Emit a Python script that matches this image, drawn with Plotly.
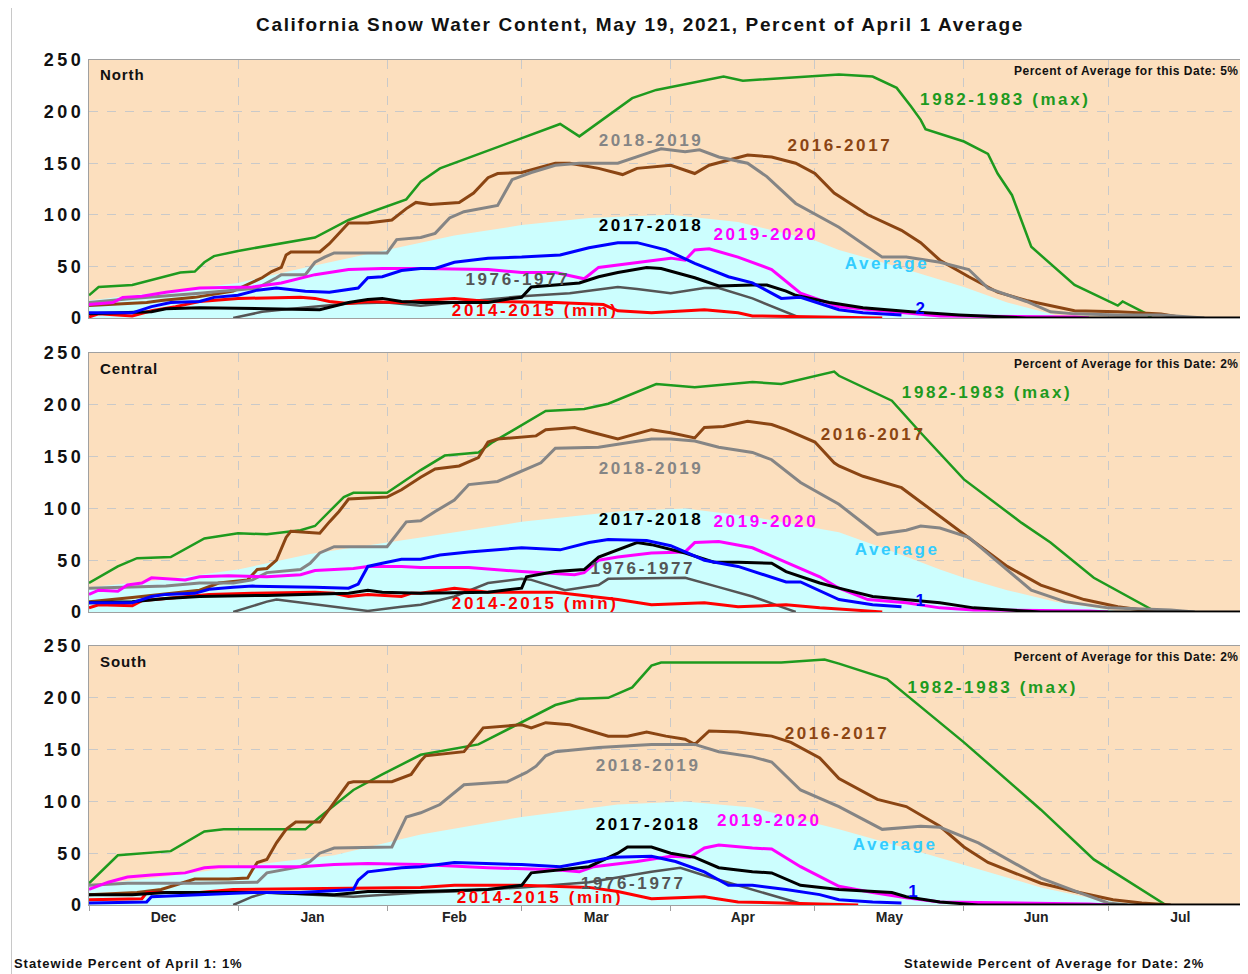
import pandas as pd
import plotly.graph_objects as go

# ---------------- data (day offset from Dec 1, percent of April 1 average) -------------
MONTH_START = "2020-12-01"

# North
N_AVG = [(0,17),(15,25),(31,34),(46,50),(62,66),(76,80),(90,90),(104,97),(121,100),(135,93),(151,75),(156,66),(168,50),(182,30),(191,15),(201,3),(206,0)]
N_1983 = [(0,22),(2,30),(9,32),(15,39),(19,44),(22,45),(24,54),(26,60),(31,65),(47,78),(54,95),(66,115),(69,132),(73,145),(98,188),(102,176),(113,213),(118,221),(132,234),(136,230),(156,236),(163,234),(168,223),(171,205),(173,192),(174,183),(182,171),(187,159),(189,140),(192,119),(196,69),(205,32),(214,12),(215,16),(220,4),(221,0)]
N_2017 = [(0,12),(12,15),(15,17),(22,20),(30,26),(34,35),(36,39),(38,45),(40,49),(41,61),(42,64),(48,64),(50,72),(54,92),(58,92),(63,95),(66,106),(68,112),(71,110),(77,112),(80,121),(83,136),(85,140),(90,141),(93,145),(97,150),(100,150),(106,145),(111,139),(114,145),(121,148),(126,140),(129,148),(133,153),(137,158),(142,156),(147,150),(151,140),(155,121),(162,100),(169,85),(173,73),(177,56),(183,40),(189,25),(195,17),(205,7),(214,6),(223,4),(228,0)]
N_2019 = [(0,15),(9,19),(23,24),(35,29),(39,39),(40,42),(45,42),(47,54),(49,59),(51,63),(62,63),(64,76),(69,78),(72,82),(75,97),(78,103),(85,109),(88,134),(92,141),(97,148),(102,150),(110,150),(117,161),(119,164),(124,161),(127,163),(131,156),(137,150),(141,137),(147,111),(156,88),(165,59),(170,59),(177,54),(183,47),(187,29),(195,16),(200,6),(205,4),(214,3),(223,3),(228,1),(232,0)]
N_1977 = [(30,0),(36,6),(40,8),(47,11),(54,14),(62,15),(69,12),(76,15),(90,21),(100,24),(110,30),(114,28),(121,24),(128,29),(131,29),(138,19),(145,6),(148,0)]
N_2015 = [(0,1),(2,4),(9,2),(13,7),(18,11),(23,16),(31,19),(44,20),(47,19),(50,16),(54,14),(58,16),(65,15),(69,17),(76,19),(83,16),(97,15),(107,13),(110,7),(117,5),(128,8),(135,5),(138,2),(156,1),(165,0)]
N_2020 = [(0,13),(5,15),(7,20),(11,21),(16,25),(23,29),(34,30),(40,34),(47,42),(54,47),(61,48),(69,48),(83,47),(90,44),(97,44),(103,38),(106,49),(117,56),(121,58),(124,56),(126,66),(129,67),(135,59),(142,47),(148,24),(156,11),(163,8),(170,5),(177,2),(205,1),(208,0)]
N_2018 = [(0,4),(13,6),(16,9),(23,10),(37,9),(48,8),(54,15),(58,18),(61,19),(65,16),(69,15),(83,15),(88,19),(90,20),(92,30),(97,32),(102,34),(106,40),(110,44),(116,49),(119,48),(126,39),(131,31),(138,32),(141,32),(145,26),(147,22),(154,15),(161,10),(171,6),(181,3),(195,0),(241,0)]
N_2021 = [(0,5),(9,5),(13,11),(17,15),(23,16),(26,20),(31,22),(35,27),(39,29),(45,26),(50,25),(56,29),(58,39),(61,40),(65,46),(69,48),(72,48),(76,54),(83,58),(90,59),(98,61),(104,68),(110,73),(114,73),(120,66),(126,53),(133,40),(138,34),(144,19),(148,20),(156,8),(161,5),(169,3)]

# Central
C_AVG = [(0,24),(15,31),(31,41),(46,56),(69,72),(90,87),(110,97),(124,100),(138,92),(156,77),(168,57),(177,41),(182,33),(191,21),(201,10),(211,3),(215,0)]
C_1983 = [(0,28),(6,44),(10,52),(17,53),(24,71),(31,76),(37,75),(44,79),(47,83),(53,111),(55,115),(62,115),(69,137),(74,151),(81,154),(84,164),(95,194),(103,196),(108,201),(118,220),(126,217),(138,222),(144,220),(155,232),(156,228),(167,204),(173,173),(182,128),(194,86),(200,67),(209,33),(222,0)]
C_2017 = [(0,10),(9,14),(23,21),(27,28),(33,31),(35,41),(37,42),(39,50),(41,72),(42,78),(45,77),(48,76),(50,87),(52,97),(54,109),(62,111),(65,118),(69,130),(72,138),(77,141),(81,149),(83,164),(85,167),(93,170),(95,176),(101,178),(105,173),(110,167),(117,176),(121,173),(126,168),(128,178),(132,179),(137,184),(142,181),(145,176),(151,164),(155,144),(156,141),(161,131),(169,120),(176,96),(182,75),(191,44),(198,26),(207,12),(214,5),(219,2),(225,0)]
C_2019 = [(0,23),(9,24),(16,25),(23,28),(30,28),(34,31),(37,38),(44,41),(46,47),(48,57),(51,63),(62,63),(66,87),(69,88),(72,97),(76,108),(79,123),(85,126),(90,136),(94,144),(97,158),(106,159),(117,167),(121,167),(126,165),(131,159),(138,154),(142,147),(148,125),(156,104),(164,75),(170,79),(173,83),(177,81),(183,72),(191,41),(196,21),(203,10),(212,4),(225,2),(230,0)]
C_1977 = [(30,0),(37,10),(39,12),(44,9),(51,5),(58,1),(65,5),(69,7),(76,15),(83,28),(90,32),(92,31),(99,21),(106,26),(108,32),(124,33),(131,24),(138,15),(144,5),(147,0)]
C_2015 = [(0,4),(2,7),(9,6),(11,11),(16,13),(25,17),(34,18),(47,19),(51,18),(54,15),(58,17),(65,15),(67,18),(69,18),(76,23),(83,19),(97,19),(104,15),(110,12),(117,7),(128,9),(135,5),(145,7),(152,4),(156,3),(165,0)]
C_2020 = [(0,17),(2,21),(6,20),(8,26),(11,28),(13,33),(20,31),(23,34),(29,35),(37,34),(44,36),(47,40),(55,42),(58,44),(65,44),(69,43),(79,43),(90,39),(101,36),(103,38),(106,50),(110,53),(117,57),(124,58),(126,67),(131,68),(138,62),(145,48),(152,34),(156,23),(162,12),(170,9),(173,7),(177,4),(184,2),(208,1),(212,0)]
C_2018 = [(0,9),(9,10),(16,13),(23,15),(37,16),(47,17),(54,18),(58,21),(61,19),(69,18),(83,19),(90,23),(91,34),(97,39),(103,41),(106,53),(110,60),(114,67),(117,65),(124,57),(130,48),(135,48),(142,47),(145,39),(152,28),(156,23),(163,15),(170,12),(177,9),(184,4),(191,2),(198,0),(241,0)]
C_2021 = [(0,9),(9,9),(13,15),(16,17),(22,18),(25,22),(30,24),(34,25),(47,24),(54,23),(56,27),(58,44),(61,47),(65,51),(69,51),(73,55),(79,58),(90,62),(98,60),(104,67),(108,70),(116,69),(121,64),(128,50),(135,44),(142,34),(145,29),(148,29),(156,12),(163,7),(169,5)]

# South
S_AVG = [(0,19),(15,27),(31,37),(51,48),(69,68),(90,85),(110,97),(124,100),(138,94),(156,73),(173,51),(182,39),(198,17),(208,7),(215,2),(220,0)]
S_1983 = [(0,21),(6,48),(17,52),(24,71),(28,73),(45,73),(48,85),(55,111),(61,126),(69,145),(81,155),(90,176),(97,193),(102,199),(108,200),(113,210),(117,231),(119,234),(144,234),(153,237),(156,233),(166,218),(182,157),(198,92),(209,44),(224,0)]
S_2017 = [(0,10),(10,12),(15,15),(22,25),(29,25),(33,26),(34,34),(35,41),(37,44),(39,60),(41,73),(43,80),(48,80),(51,99),(54,118),(55,119),(63,119),(67,126),(69,139),(70,144),(78,148),(82,171),(90,174),(92,171),(95,176),(100,174),(108,163),(112,163),(116,167),(120,163),(124,160),(126,155),(129,168),(135,167),(142,163),(146,157),(152,142),(156,122),(164,102),(170,95),(177,76),(182,56),(187,41),(198,21),(206,12),(213,5),(219,2),(225,0)]
S_2019 = [(0,19),(8,21),(23,21),(30,22),(35,22),(37,31),(44,37),(46,42),(48,50),(51,55),(63,56),(66,85),(69,89),(73,97),(78,116),(87,119),(91,128),(93,134),(95,144),(97,148),(106,152),(117,155),(126,155),(131,148),(138,143),(142,138),(148,111),(156,95),(165,73),(173,76),(177,75),(185,60),(198,26),(206,12),(212,2),(216,0)]
S_1977 = [(30,0),(34,8),(37,12),(55,8),(69,12),(76,13),(90,17),(104,22),(117,32),(123,36),(129,27),(138,15),(145,5),(149,0)]
S_2015 = [(0,5),(11,6),(12,12),(23,12),(30,15),(54,16),(69,17),(76,19),(90,19),(104,17),(110,13),(117,6),(128,8),(135,3),(145,2),(160,0)]
S_2020 = [(0,15),(4,22),(8,27),(13,29),(20,31),(24,36),(27,37),(44,37),(51,39),(58,40),(69,39),(83,36),(97,34),(102,32),(105,37),(114,42),(121,47),(125,46),(128,55),(131,58),(138,55),(142,54),(148,37),(156,18),(163,12),(170,7),(177,3),(208,1),(212,0)]
S_2018 = [(0,10),(9,10),(16,12),(37,12),(51,10),(58,13),(69,13),(83,15),(90,19),(92,31),(104,37),(110,50),(112,56),(117,56),(121,50),(126,46),(131,36),(138,32),(142,31),(148,19),(156,15),(167,12),(170,8),(177,3),(185,0),(241,0)]
S_2021 = [(0,2),(12,3),(13,8),(23,10),(34,12),(44,12),(55,15),(56,24),(58,32),(65,36),(69,37),(76,41),(90,39),(98,37),(109,46),(117,47),(122,42),(128,32),(133,19),(138,19),(145,15),(152,10),(156,5),(163,3),(169,2)]

REGIONS = ["North", "Central", "South"]
PCT_DATE = ["5%", "2%", "2%"]
TICK_VALUES = [0, 50, 100, 150, 200, 250]

# label anchors: (text, day, value) per panel
N_LABELS = [("1982-1983 (max)",190.6,211),("2016-2017",156.2,166),("2018-2019",116.9,170.5),("2017-2018",116.9,88),("2019-2020",140.8,80),("Average",166,52),("1976-1977",89.2,36),("2014-2015 (min)",92.8,6),("2",172.9,8)]
C_LABELS = [("1982-1983 (max)",186.8,211),("2016-2017",163.1,170.5),("2018-2019",116.9,137.6),("2017-2018",116.9,88),("2019-2020",140.8,86),("Average",168.1,59),("1976-1977",115.2,40.7),("2014-2015 (min)",92.8,6.8),("1",172.9,9.7)]
S_LABELS = [("1982-1983 (max)",188,209),("2016-2017",155.6,164.7),("2018-2019",116.3,133.7),("2017-2018",116.3,76.5),("2019-2020",141.5,80.4),("Average",167.7,57),("1976-1977",113.2,19.4),("2014-2015 (min)",93.8,5.8),("1",171.4,11.6)]

# ---------------- styling ----------------
FONT = "Liberation Sans, Arial, sans-serif"
BG = "#FCDFBE"
AVG_FILL = "#CCFEFE"
COL = {
    "1983": "#1E9A1E", "2017": "#8B4513", "2019": "#858585", "1977": "#555555",
    "2015": "#FF0000", "2020": "#FF00FF", "2018": "#000000", "2021": "#0000FF",
}
LABEL_COL = {
    "1982-1983 (max)": "#1E9A1E", "2016-2017": "#8B4513", "2018-2019": "#858585",
    "2017-2018": "#000000", "2019-2020": "#FF00FF", "Average": "#33CCFF",
    "1976-1977": "#555555", "2014-2015 (min)": "#FF0000", "2": "#0000FF", "1": "#0000FF",
}

# page body has an 8px margin: lay the figure out in page pixels minus that offset
OFF = 8
W, H = 1248 - OFF, 974 - OFF
PL, PT, PB = 89 - OFF, 60 - OFF, 905 - OFF          # plot left / top / bottom
PW, PH = W - PL, PB - PT                             # plot width / height
def px_x(x):  # page px -> paper x
    return (x - OFF - PL) / PW
def px_y(y):  # page px -> paper y
    return (PB - (y - OFF)) / PH

base = pd.Timestamp(MONTH_START)
def dates(pts):
    return [base + pd.Timedelta(days=d) for d, _ in pts]
def vals(pts):
    return [v for _, v in pts]
def day(d):
    return base + pd.Timedelta(days=d)

def spaced(t, px):
    return f'<span style="letter-spacing:{px}px">{t}</span>'

fig = go.Figure()

DOMAINS = [[px_y(318), 1.0], [px_y(612), px_y(353)], [0.0, px_y(646)]]

panels = [
    (N_AVG, [("1983", N_1983, 2.5), ("2017", N_2017, 3), ("2019", N_2019, 3), ("1977", N_1977, 2.5), ("2015", N_2015, 3), ("2020", N_2020, 3), ("2018", N_2018, 3), ("2021", N_2021, 3)], N_LABELS),
    (C_AVG, [("1983", C_1983, 2.5), ("2017", C_2017, 3), ("2019", C_2019, 3), ("1977", C_1977, 2.5), ("2015", C_2015, 3), ("2020", C_2020, 3), ("2018", C_2018, 3), ("2021", C_2021, 3)], C_LABELS),
    (S_AVG, [("1983", S_1983, 2.5), ("2017", S_2017, 3), ("2019", S_2019, 3), ("1977", S_1977, 2.5), ("2015", S_2015, 3), ("2020", S_2020, 3), ("2018", S_2018, 3), ("2021", S_2021, 3)], S_LABELS),
]

for i, (avg, series, labels) in enumerate(panels):
    xa = "x" if i == 0 else f"x{i+1}"
    ya = "y" if i == 0 else f"y{i+1}"
    fig.add_trace(go.Scatter(x=dates(avg), y=vals(avg), mode="lines", fill="tozeroy",
                             fillcolor=AVG_FILL, line=dict(width=0, color=AVG_FILL),
                             xaxis=xa, yaxis=ya, showlegend=False, hoverinfo="skip"))
    for key, pts, w in series:
        fig.add_trace(go.Scatter(x=dates(pts), y=vals(pts), mode="lines",
                                 line=dict(color=COL[key], width=w),
                                 xaxis=xa, yaxis=ya, showlegend=False))
    for txt, d, v in labels:
        is_cur = txt in ("1", "2")
        fig.add_trace(go.Scatter(x=[day(d)], y=[v], mode="text",
                                 text=[txt if is_cur else spaced(txt, 2.6)],
                                 textposition="middle center", cliponaxis=True,
                                 textfont=dict(family=FONT, size=17, color=LABEL_COL[txt], weight="bold"),
                                 xaxis=xa, yaxis=ya, showlegend=False, hoverinfo="skip"))

layout = dict(
    width=W, height=H,
    margin=dict(l=PL, r=0, t=PT, b=H - PB, pad=0),
    paper_bgcolor="white", plot_bgcolor=BG,
    font=dict(family=FONT, color="#111"),
    title=dict(text=spaced("California Snow Water Content, May 19, 2021, Percent of April 1 Average", 1.65),
               x=px_x(640), xref="paper", xanchor="center", y=1 - (24 - OFF) / H, yref="container", yanchor="middle",
               font=dict(family=FONT, size=19, color="#111", weight="bold")),
    showlegend=False,
)

for i in range(3):
    xk = "xaxis" if i == 0 else f"xaxis{i+1}"
    yk = "yaxis" if i == 0 else f"yaxis{i+1}"
    xa = "x" if i == 0 else f"x{i+1}"
    ya = "y" if i == 0 else f"y{i+1}"
    layout[xk] = dict(
        type="date", range=["2020-12-01", "2021-07-30 02:00"], domain=[0, 1], anchor=ya,
        dtick="M1", tick0=MONTH_START, ticklabelmode="period", tickformat="%b",
        showgrid=True, gridcolor="#C9C9C9", griddash="dash", gridwidth=1,
        showline=True, linecolor="#A0A0A0", linewidth=1, mirror=True,
        ticks="outside" if i == 2 else "", ticklen=5, tickcolor="#A0A0A0",
        ticklabelstandoff=-6,
        showticklabels=(i == 2), tickfont=dict(family=FONT, size=14, color="#222", weight="bold"),
        zeroline=False, fixedrange=True,
    )
    layout[yk] = dict(
        range=[0, 250], domain=DOMAINS[i], anchor=xa,
        tickvals=TICK_VALUES, ticktext=[spaced(str(t), 3.5) for t in TICK_VALUES],
        showgrid=True, gridcolor="#C9C9C9", griddash="dash", gridwidth=1,
        showline=True, linecolor="#A0A0A0", linewidth=1, mirror=True,
        ticks="", zeroline=False,
        tickfont=dict(family=FONT, size=18, color="#111", weight="bold"),
        fixedrange=True,
    )

annotations = []
for i, name in enumerate(REGIONS):
    xd = "x domain" if i == 0 else f"x{i+1} domain"
    yd = "y domain" if i == 0 else f"y{i+1} domain"
    annotations.append(dict(text=spaced(name, 0.9), xref=xd, yref=yd, x=(98 - 89) / 1159, y=0.942,
                            xanchor="left", yanchor="middle", showarrow=False,
                            font=dict(family=FONT, size=15, color="#111", weight="bold")))
    annotations.append(dict(text=spaced(f"Percent of Average for this Date: {PCT_DATE[i]}", 0.5), xref=xd, yref=yd,
                            x=(1241 - 89) / 1159, y=0.957, xanchor="right", yanchor="middle", showarrow=False,
                            font=dict(family=FONT, size=12, color="#111", weight="bold")))

annotations.append(dict(text=spaced("Statewide Percent of April 1: 1%", 0.95), xref="paper", yref="paper",
                        x=px_x(12), y=px_y(963), xanchor="left", yanchor="middle",
                        showarrow=False, font=dict(family=FONT, size=13, color="#111", weight="bold")))
annotations.append(dict(text=spaced("Statewide Percent of Average for Date: 2%", 0.95), xref="paper", yref="paper",
                        x=px_x(1206), y=px_y(963), xanchor="right", yanchor="middle",
                        showarrow=False, font=dict(family=FONT, size=13, color="#111", weight="bold")))
layout["annotations"] = annotations

layout["shapes"] = [dict(type="line", xref="paper", yref="paper",
                         x0=px_x(11.5), x1=px_x(11.5), y0=px_y(974), y1=px_y(8),
                         line=dict(color="#C8C8C8", width=1))]

fig.update_layout(**layout)
fig.write_html("out.html")
